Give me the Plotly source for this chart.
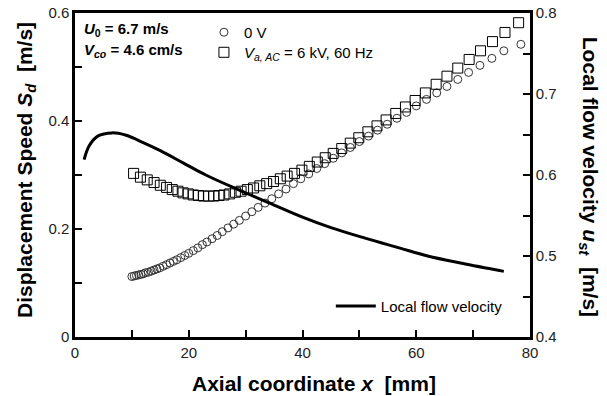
import plotly.graph_objects as go

# ---- data ----
circ_x = [10.0, 10.4, 10.8, 11.2, 11.6, 12.0, 12.4, 12.9, 13.4, 13.9, 14.4, 14.9, 15.5, 16.1,
          16.7, 17.3, 17.9, 18.6, 19.3, 20.0, 20.8, 21.6, 22.4, 23.2, 24.1, 25.0, 25.9, 26.9,
          27.9, 28.9, 30.0, 31.1, 32.2, 33.4, 34.6, 35.8, 37.1, 38.4, 39.7, 41.1, 42.5, 43.9,
          45.4, 46.9, 48.4, 50.0, 51.6, 53.2, 54.9, 56.6, 58.3, 60.0, 61.8, 63.6, 65.4, 67.3,
          69.2, 71.2, 73.3, 75.4, 78.4]
circ_y = [0.112, 0.113, 0.114, 0.115, 0.116, 0.117, 0.119, 0.120, 0.122, 0.124, 0.126, 0.128,
          0.131, 0.134, 0.137, 0.140, 0.143, 0.147, 0.151, 0.155, 0.160, 0.165, 0.171, 0.176,
          0.182, 0.188, 0.195, 0.202, 0.209, 0.216, 0.224, 0.232, 0.240, 0.248, 0.256, 0.265,
          0.274, 0.284, 0.293, 0.302, 0.312, 0.321, 0.331, 0.341, 0.351, 0.362, 0.372, 0.383,
          0.394, 0.405, 0.416, 0.428, 0.440, 0.452, 0.464, 0.477, 0.490, 0.503, 0.516, 0.530,
          0.542]

sq_x = [10.3, 11.5, 12.7, 13.9, 15.0, 16.1, 17.1, 18.1, 19.0, 19.9, 20.8, 21.7, 22.6, 23.5,
        24.4, 25.3, 26.2, 27.2, 28.2, 29.2, 30.3, 31.4, 32.5, 33.7, 34.9, 36.1, 37.3, 38.6,
        39.9, 41.2, 42.6, 44.0, 45.4, 46.9, 48.4, 49.9, 51.5, 53.1, 54.7, 56.4, 58.1, 59.8,
        61.6, 63.5, 65.4, 67.3, 69.3, 71.3, 73.4, 75.6, 78.0]
sq_y = [0.303, 0.296, 0.291, 0.286, 0.281, 0.277, 0.273, 0.270, 0.267, 0.265, 0.263, 0.262,
        0.261, 0.261, 0.261, 0.262, 0.263, 0.265, 0.268, 0.270, 0.273, 0.276, 0.280, 0.284,
        0.288, 0.293, 0.298, 0.303, 0.309, 0.316, 0.324, 0.332, 0.340, 0.349, 0.359, 0.369,
        0.380, 0.391, 0.402, 0.414, 0.426, 0.438, 0.452, 0.468, 0.483, 0.498, 0.514, 0.530,
        0.547, 0.564, 0.582]

flow_x = [1.6, 2.5, 4.0, 6.5, 9.0, 12.0, 15.0, 19.0, 23.0, 29.0, 34.0, 40.0, 45.0, 51.0,
          57.0, 62.0, 68.0, 75.4]
flow_y = [0.619, 0.636, 0.648, 0.652, 0.649, 0.640, 0.630, 0.615, 0.600, 0.581, 0.566, 0.548,
          0.535, 0.522, 0.510, 0.500, 0.491, 0.481]

x_ticks = [0, 10, 20, 30, 40, 50, 60, 70, 80]
x_ticktext = ["0", "", "20", "", "40", "", "60", "", "80"]
y_ticks = [0, 0.1, 0.2, 0.3, 0.4, 0.5, 0.6]
y_ticktext = ["0", "", "0.2", "", "0.4", "", "0.6"]
y2_ticks = [0.4, 0.45, 0.5, 0.55, 0.6, 0.65, 0.7, 0.75, 0.8]
y2_ticktext = ["0.4", "", "0.5", "", "0.6", "", "0.7", "", "0.8"]

FONT = "Liberation Sans, Arial, sans-serif"

fig = go.Figure()
fig.add_trace(go.Scatter(
    x=circ_x, y=circ_y, mode="markers", name="0 V", legend="legend",
    marker=dict(symbol="circle-open", size=8, color="#333333", line=dict(width=1, color="#333333")),
))
fig.add_trace(go.Scatter(
    x=sq_x, y=sq_y, mode="markers", name="<i>V</i><sub><i>a, AC</i></sub> = 6 kV, 60 Hz", legend="legend3",
    marker=dict(symbol="square-open", size=10, color="black", line=dict(width=1, color="black")),
))
fig.add_trace(go.Scatter(
    x=flow_x, y=flow_y, mode="lines", name="Local flow velocity", yaxis="y2", legend="legend2",
    line=dict(color="black", width=3, shape="spline"),
))

axis_common = dict(showgrid=False, zeroline=False, showline=True, linecolor="black", linewidth=2.5,
                   ticks="inside", ticklen=7, tickwidth=2, tickcolor="black",
                   tickfont=dict(family=FONT, size=15, color="#222"))

leg_common = dict(xref="container", yref="container", xanchor="left", yanchor="top",
                  bgcolor="rgba(0,0,0,0)", font=dict(family=FONT, size=15))

fig.update_layout(
    width=607, height=396,
    margin=dict(l=75, r=77, t=13, b=59, autoexpand=False),
    paper_bgcolor="white", plot_bgcolor="white",
    font=dict(family=FONT, color="black"),
    xaxis=dict(range=[0, 80], tickmode="array", tickvals=x_ticks, ticktext=x_ticktext,
               mirror=True, **axis_common),
    yaxis=dict(range=[0, 0.6], tickmode="array", tickvals=y_ticks, ticktext=y_ticktext, **axis_common),
    yaxis2=dict(range=[0.4, 0.8], tickmode="array", tickvals=y2_ticks, ticktext=y2_ticktext,
                overlaying="y", side="right", **axis_common),
    legend=dict(x=0.336, y=0.9596, itemwidth=30, **leg_common),
    legend3=dict(x=0.336, y=0.909, itemwidth=30, **leg_common),
    legend2=dict(x=0.545, y=0.2686, itemwidth=40, **leg_common),
    showlegend=True,
)

fig.add_annotation(text="<b>Axial coordinate <i>x</i>  [mm]</b>",
                   xref="paper", yref="paper", x=0.525, y=-0.142, xanchor="center", yanchor="middle",
                   showarrow=False, font=dict(family=FONT, size=21))
fig.add_annotation(text="<b>Displacement Speed <i>S</i><sub><i>d</i></sub>  [m/s]</b>",
                   xref="paper", yref="paper", x=-0.108, y=0.515, textangle=-90,
                   showarrow=False, font=dict(family=FONT, size=21), xanchor="center", yanchor="middle")
fig.add_annotation(text="<b>Local flow velocity <i>u</i><sub><i>st</i></sub>  [m/s]</b>",
                   xref="paper", yref="paper", x=1.13, y=0.494, textangle=90,
                   showarrow=False, font=dict(family=FONT, size=21), xanchor="center", yanchor="middle")
fig.add_annotation(text="<b><i>U</i><sub>0</sub> = 6.7 m/s</b>",
                   xref="paper", yref="paper", x=0.015, y=0.950, xanchor="left", yanchor="middle",
                   showarrow=False, font=dict(family=FONT, size=15))
fig.add_annotation(text="<b><i>V</i><sub><i>co</i></sub> = 4.6 cm/s</b>",
                   xref="paper", yref="paper", x=0.015, y=0.885, xanchor="left", yanchor="middle",
                   showarrow=False, font=dict(family=FONT, size=15))

fig.write_html("out.html")
